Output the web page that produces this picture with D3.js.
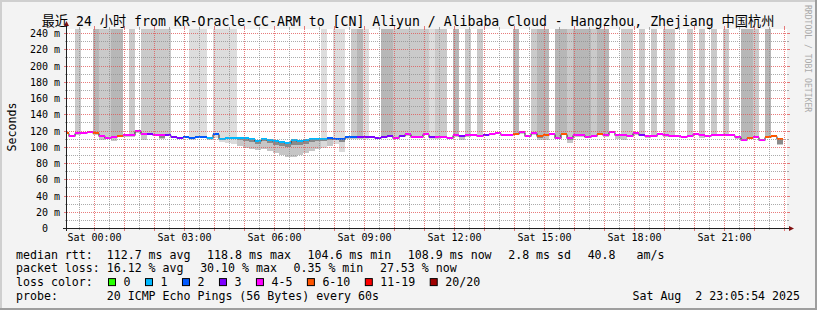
<!DOCTYPE html>
<html>
<head>
<meta charset="utf-8">
<script src="https://cdn.jsdelivr.net/npm/d3@7"></script>
<style>
  body { margin: 0; background: #f3f3f3; }
  svg { display: block; }
  text { font-family: "DejaVu Sans Mono", "Noto Sans CJK SC", monospace; fill: #000; }
  .tick text { font-size: 10px; }
  .legend text { font-size: 11.6px; }
</style>
</head>
<body>
<svg width="817" height="310"></svg>
<script>
// smokeping 24h graph, one slot = 12 minutes, first slot starts Fri 22:58 (clipped at the left edge)

var median = [117, 113.5, 117, 117, 118.5, 117, 113.5, 111, 112, 113.5,
  114, 114, 119.5, 116, 116, 115, 115, 115, 112, 111,
  112.4, 110.5, 112.4, 112.4, 111, 116, 110, 111, 111, 111,
  111, 109, 107.5, 110, 108.5, 106.5, 106, 104.6, 108, 106.5,
  108.5, 109, 109.5, 110, 111, 110, 109.5, 112.4, 111.6, 111.6,
  111.6, 112.4, 111.2, 112.4, 113.6, 111.2, 113.6, 115.3, 112.4, 112.4,
  116, 112.4, 112.4, 112.4, 111.2, 114.3, 113.6, 114.3, 114.7, 113.6,
  115, 115.5, 117.3, 114.7, 114.7, 116.1, 117.7, 113.6, 116.5, 113.6,
  114.3, 116, 111.2, 115.7, 111.2, 114, 114, 112, 113.6, 115.7,
  114, 118.2, 115, 115, 113.6, 116.5, 115, 113, 113, 115.7,
  114.5, 113, 113.6, 112.4, 113.6, 116, 115, 113.6, 115, 115,
  115, 115, 111.6, 108.7, 111.2, 112.4, 108.7, 112.4, 113.6, 109];

// lost pings out of 20
var loss = [6, 4, 4, 4, 4, 6, 4, 4, 4, 6,
  4, 4, 4, 4, 3, 4, 4, 3, 3, 3,
  2, 2, 2, 2, 1, 2, 1, 1, 1, 1,
  1, 1, 1, 1, 1, 1, 1, 1, 1, 1,
  1, 1, 1, 1, 2, 2, 2, 2, 2, 3,
  3, 3, 3, 3, 3, 4, 3, 4, 4, 4,
  4, 3, 4, 4, 4, 4, 3, 4, 4, 4,
  3, 4, 4, 4, 4, 6, 4, 4, 4, 6,
  6, 4, 4, 6, 4, 4, 4, 4, 4, 6,
  4, 4, 4, 4, 4, 4, 3, 4, 4, 4,
  4, 4, 4, 4, 4, 4, 4, 4, 4, 4,
  4, 4, 4, 4, 6, 4, 4, 6, 6, 6];

// smoke going off the top of the graph (0 none, 1..3 = how many ping pairs)
var offTop = [0, 0, 2, 0, 0, 3, 2, 2, 3, 3,
  0, 2, 0, 2, 2, 2, 2, 2, 0, 0,
  0, 1, 1, 1, 0, 1, 1, 1, 1, 0,
  0, 0, 0, 0, 0, 0, 0, 0, 0, 0,
  0, 0, 0, 1, 0, 1, 1, 0, 2, 3,
  1, 0, 0, 3, 3, 2, 2, 2, 2, 2,
  2, 1, 2, 2, 0, 3, 0, 2, 0, 2,
  0, 0, 0, 0, 0, 3, 0, 0, 2, 3,
  3, 0, 3, 3, 2, 3, 3, 3, 2, 3,
  3, 0, 0, 2, 2, 0, 2, 0, 2, 0,
  2, 2, 0, 0, 2, 0, 2, 0, 2, 0,
  2, 0, 0, 3, 3, 2, 0, 3, 0, 0];

// lowest ping of each slot
var smokeLow = [115.5, 112, 114.5, 115.5, 117, 115, 108, 109.5, 107, 111.5,
  112.5, 112.5, 117.5, 108.5, 114, 113, 110, 113.5, 110.5, 109.5,
  111, 108.5, 111, 111, 108.5, 111, 106, 105, 103, 101,
  99, 97, 96, 97, 95, 92, 90, 88, 87, 90,
  92, 95, 97, 99, 101, 104, 94, 109, 110, 110,
  110, 111, 109.5, 111, 112, 109.5, 112, 113.5, 110.5, 111,
  114, 110, 110, 110.5, 109.5, 112.5, 108.5, 112.5, 113, 112,
  113, 114, 116, 113, 113, 114.5, 116, 112, 115, 108,
  108.5, 114.5, 109.5, 114, 105, 112.5, 112.5, 110.5, 112, 114,
  112.5, 116.5, 110, 108.5, 112, 115, 113, 111, 111.5, 114,
  112.5, 111.5, 112, 110.5, 112, 114, 111, 112, 113.5, 113,
  113.5, 113, 110, 106.5, 109.5, 110.5, 106.5, 110.5, 111.5, 102];

// bottom of the dense (dark) smoke where it shows
var smokeMid = [null, null, null, null, null, null, null, null, null, null,
  null, null, null, null, null, null, 111, null, null, null,
  null, null, null, null, null, null, 108, 109, 109, 108,
  107.5, 105.5, 104, 106.5, 104.5, 102.5, 101.5, 100, 102.5, 102,
  104, 105.5, 106.5, 107.5, 108.5, 108, 106, null, null, null,
  null, null, null, null, null, null, null, null, null, null,
  null, null, null, null, null, null, null, null, null, null,
  null, null, null, null, null, null, null, null, null, 111,
  null, null, null, null, 108, null, null, null, null, null,
  null, null, null, null, null, null, null, null, null, null,
  null, null, null, null, null, null, null, null, null, null,
  null, null, null, null, null, null, null, null, null, 104];

var yTicks = [0, 20, 40, 60, 80, 100, 120, 140, 160, 180, 200, 220, 240];
var yTickLabels = ["0  ", "20 m", "40 m", "60 m", "80 m", "100 m", "120 m",
  "140 m", "160 m", "180 m", "200 m", "220 m", "240 m"];
var xTickLabels = ["Sat 00:00", "Sat 03:00", "Sat 06:00", "Sat 09:00",
  "Sat 12:00", "Sat 15:00", "Sat 18:00", "Sat 21:00"];

var lossLimits = [0, 1, 2, 3, 5, 10, 19, 20];
var lossNames = ["0", "1", "2", "3", "4-5", "6-10", "11-19", "20/20"];
var lossColors = ["#26ff00", "#00b8ff", "#0059ff", "#7e00ff", "#ff00ff", "#ff5500", "#ff0000", "#a00000"];

var rttStats = ["112.7 ms avg", "118.8 ms max", "104.6 ms min", "108.9 ms now", "2.8 ms sd", "40.8   am/s"];
var lossStats = ["16.12 % avg", "30.10 % max", "0.35 % min", "27.53 % now"];
var probeText = "20 ICMP Echo Pings (56 Bytes) every 60s";
var stamp = "Sat Aug  2 23:05:54 2025";

var title = "最近 24 小时 from KR-Oracle-CC-ARM to [CN] Aliyun / Alibaba Cloud - Hangzhou, Zhejiang 中国杭州";

function keep(s) { return s.replace(/ /g, "\u00a0"); }

var svg = d3.select("svg"),
    W = +svg.attr("width"),
    H = +svg.attr("height");
var plotL = 67, plotR = 787, plotT = 29, plotB = 228;

var tEnd = new Date(2025, 7, 2, 23, 6),
    tStart = d3.timeDay.offset(tEnd, -1),
    slot0 = new Date(2025, 7, 1, 22, 58);

var x = d3.scaleTime().domain([tStart, tEnd]).rangeRound([plotL, plotR]),
    y = d3.scaleLinear().domain([0, 240]).rangeRound([plotB, 33]);

var slots = median.map(function(m, i) {
  var t0 = d3.timeMinute.offset(slot0, i * 12);
  return {t0: t0, t1: d3.timeMinute.offset(t0, 12), m: m, loss: loss[i],
          top: offTop[i], lo: smokeLow[i], mid: smokeMid[i]};
});

function lossColor(l) {
  for (var j = 0; j < lossLimits.length; j++) if (l <= lossLimits[j]) return lossColors[j];
  return lossColors[lossColors.length - 1];
}
var topShade = ["none", "#dddddd", "#cacaca", "#b7b7b7"];

// background + 3d frame
svg.append("rect").attr("width", W).attr("height", H).attr("fill", "#f3f3f3");
svg.append("rect").attr("width", W).attr("height", 2).attr("fill", "#cfcfcf");
svg.append("rect").attr("width", 2).attr("height", H).attr("fill", "#cfcfcf");
svg.append("rect").attr("y", H - 2).attr("width", W).attr("height", 2).attr("fill", "#9e9e9e");
svg.append("rect").attr("x", W - 2).attr("width", 2).attr("height", H).attr("fill", "#9e9e9e");

svg.append("rect")
    .attr("x", plotL).attr("y", plotT)
    .attr("width", plotR - plotL).attr("height", plotB - plotT)
    .attr("fill", "#fff");

svg.append("clipPath").attr("id", "plot")
  .append("rect")
    .attr("x", plotL).attr("y", plotT)
    .attr("width", plotR - plotL).attr("height", plotB - plotT);

var g = svg.append("g").attr("clip-path", "url(#plot)");

// smoke below the median
g.selectAll(".low")
  .data(slots)
  .enter().append("rect")
    .attr("class", "low")
    .attr("x", function(d) { return x(d.t0); })
    .attr("width", function(d) { return x(d.t1) - x(d.t0); })
    .attr("y", function(d) { return y(d.m); })
    .attr("height", function(d) { return Math.max(0, y(d.lo) - y(d.m)); })
    .attr("fill", function(d) { return d.top == 1 ? "#dadada" : "#c6c6c6"; });

g.selectAll(".mid")
  .data(slots.filter(function(d) { return d.mid != null; }))
  .enter().append("rect")
    .attr("class", "mid")
    .attr("x", function(d) { return x(d.t0); })
    .attr("width", function(d) { return x(d.t1) - x(d.t0); })
    .attr("y", function(d) { return y(d.m); })
    .attr("height", function(d) { return Math.max(0, y(d.mid) - y(d.m)); })
    .attr("fill", "#8a8a8a");

// smoke running off the top
g.selectAll(".top")
  .data(slots.filter(function(d) { return d.top > 0; }))
  .enter().append("rect")
    .attr("class", "top")
    .attr("x", function(d) { return x(d.t0); })
    .attr("width", function(d) { return x(d.t1) - x(d.t0); })
    .attr("y", plotT)
    .attr("height", function(d) { return y(d.m) - plotT; })
    .attr("fill", function(d) { return topShade[d.top]; });

// grid (rrdtool puts it over the areas)
var minorCol = "rgba(143,143,143,0.75)", majorCol = "rgba(224,80,80,0.75)";
var grid = svg.append("g");
var hVals = d3.range(10, 241, 10);
grid.selectAll(".hg")
  .data(hVals)
  .enter().append("line")
    .attr("x1", plotL).attr("x2", plotR)
    .attr("y1", function(d) { return y(d) + 0.5; })
    .attr("y2", function(d) { return y(d) + 0.5; })
    .attr("stroke", function(d) { return d % 20 ? minorCol : majorCol; })
    .attr("stroke-dasharray", "1,1");
grid.selectAll(".hs")
  .data(hVals)
  .enter().append("path")
    .attr("d", function(d) {
      var s = d % 20 ? 2 : 3, yy = y(d) + 0.5;
      return "M" + (plotL - s) + "," + yy + "H" + plotL + "M" + plotR + "," + yy + "H" + (plotR + s);
    })
    .attr("stroke", function(d) { return d % 20 ? minorCol : majorCol; });

var vTimes = d3.timeMinute.every(30).range(d3.timeMinute.offset(tStart, 1), tEnd);
grid.selectAll(".vg")
  .data(vTimes)
  .enter().append("line")
    .attr("x1", function(d) { return x(d) + 0.5; })
    .attr("x2", function(d) { return x(d) + 0.5; })
    .attr("y1", plotT).attr("y2", plotB)
    .attr("stroke", function(d) { return d.getMinutes() ? minorCol : majorCol; })
    .attr("stroke-dasharray", "1,1");
grid.selectAll(".vs")
  .data(vTimes)
  .enter().append("path")
    .attr("d", function(d) {
      var s = d.getMinutes() ? 2 : 3, xx = x(d) + 0.5;
      return "M" + xx + "," + (plotT - s) + "V" + plotT + "M" + xx + "," + plotB + "V" + (plotB + s);
    })
    .attr("stroke", function(d) { return d.getMinutes() ? minorCol : majorCol; });

// median: thin dark step line, then loss coloured bands
var pts = slots.map(function(d) { return [x(d.t0), y(d.m) + 0.5]; });
var last = slots[slots.length - 1];
pts.push([x(last.t1), y(last.m) + 0.5]);
g.append("path")
    .attr("d", d3.line().curve(d3.curveStepAfter)(pts))
    .attr("fill", "none")
    .attr("stroke", "#202020")
    .attr("stroke-width", 1);

g.selectAll(".band")
  .data(slots)
  .enter().append("rect")
    .attr("class", "band")
    .attr("x", function(d) { return x(d.t0); })
    .attr("width", function(d) { return x(d.t1) - x(d.t0); })
    .attr("y", function(d) { return y(d.m) - 1; })
    .attr("height", 2)
    .attr("fill", function(d) { return lossColor(d.loss); });

// axes
svg.append("line")
    .attr("x1", 63).attr("x2", 789).attr("y1", plotB + 0.5).attr("y2", plotB + 0.5)
    .attr("stroke", "#202020");
svg.append("line")
    .attr("x1", plotL - 0.5).attr("x2", plotL - 0.5).attr("y1", plotB + 3).attr("y2", 25)
    .attr("stroke", "#202020");
svg.append("path").attr("d", "M64,26L66.5,21L69,26Z").attr("fill", "#801010");
svg.append("path").attr("d", "M789,226L794,228.5L789,231Z").attr("fill", "#801010");

var yAxis = svg.append("g")
    .attr("transform", "translate(" + plotL + ",0)")
    .call(d3.axisLeft(y).tickValues(yTicks).tickSize(0).tickPadding(7)
      .tickFormat(function(d, i) { return keep(yTickLabels[i]); }));
yAxis.select(".domain").remove();

var xAxis = svg.append("g")
    .attr("transform", "translate(0," + plotB + ")")
    .call(d3.axisBottom(x).tickValues(d3.timeHour.every(3).range(tStart, tEnd))
      .tickSize(0).tickPadding(6)
      .tickFormat(function(d, i) { return xTickLabels[i]; }));
xAxis.select(".domain").remove();

// titles
svg.append("text")
    .attr("x", 408).attr("y", 25.5)
    .attr("text-anchor", "middle")
    .style("font-size", "13.2px")
    .text(title);

svg.append("text")
    .attr("transform", "translate(15.5,127) rotate(-90)")
    .attr("text-anchor", "middle")
    .style("font-size", "11.6px")
    .text("Seconds");

svg.append("text")
    .attr("transform", "translate(804.5,5) rotate(90)")
    .style("font-size", "8.1px")
    .style("fill", "#aaa")
    .text("RRDTOOL / TOBI OETIKER");

// legend: rrdtool places the items of a line one after another with a fixed gap
var legend = svg.append("g").attr("class", "legend");
var rowY = [258.5, 272.3, 286.1, 299.9];
var gap = 16.6;

function legendRow(items, yy) {
  var lx = 16;
  items.forEach(function(s) {
    var t = legend.append("text").attr("x", lx).attr("y", yy).text(keep(s));
    lx += t.node().getComputedTextLength() + gap;
  });
}
legendRow(["median rtt:  " + rttStats[0]].concat(rttStats.slice(1)), rowY[0]);
legendRow(["packet loss: " + lossStats[0]].concat(lossStats.slice(1)), rowY[1]);

legend.append("text").attr("x", 16).attr("y", rowY[2]).text(keep("loss color:"));
var bx = 108.5;
lossNames.forEach(function(name, i) {
  legend.append("rect")
      .attr("x", bx).attr("y", rowY[2] - 7.5)
      .attr("width", 7).attr("height", 7)
      .attr("fill", lossColors[i])
      .attr("stroke", "#000");
  var t = legend.append("text").attr("x", bx + 15).attr("y", rowY[2]).text(name);
  bx = bx + 15 + t.node().getComputedTextLength() + 15;
});

legend.append("text").attr("x", 16).attr("y", rowY[3]).text(keep("probe:       " + probeText));
legend.append("text").attr("x", 800).attr("y", rowY[3])
    .attr("text-anchor", "end")
    .text(keep(stamp));
</script>
</body>
</html>
